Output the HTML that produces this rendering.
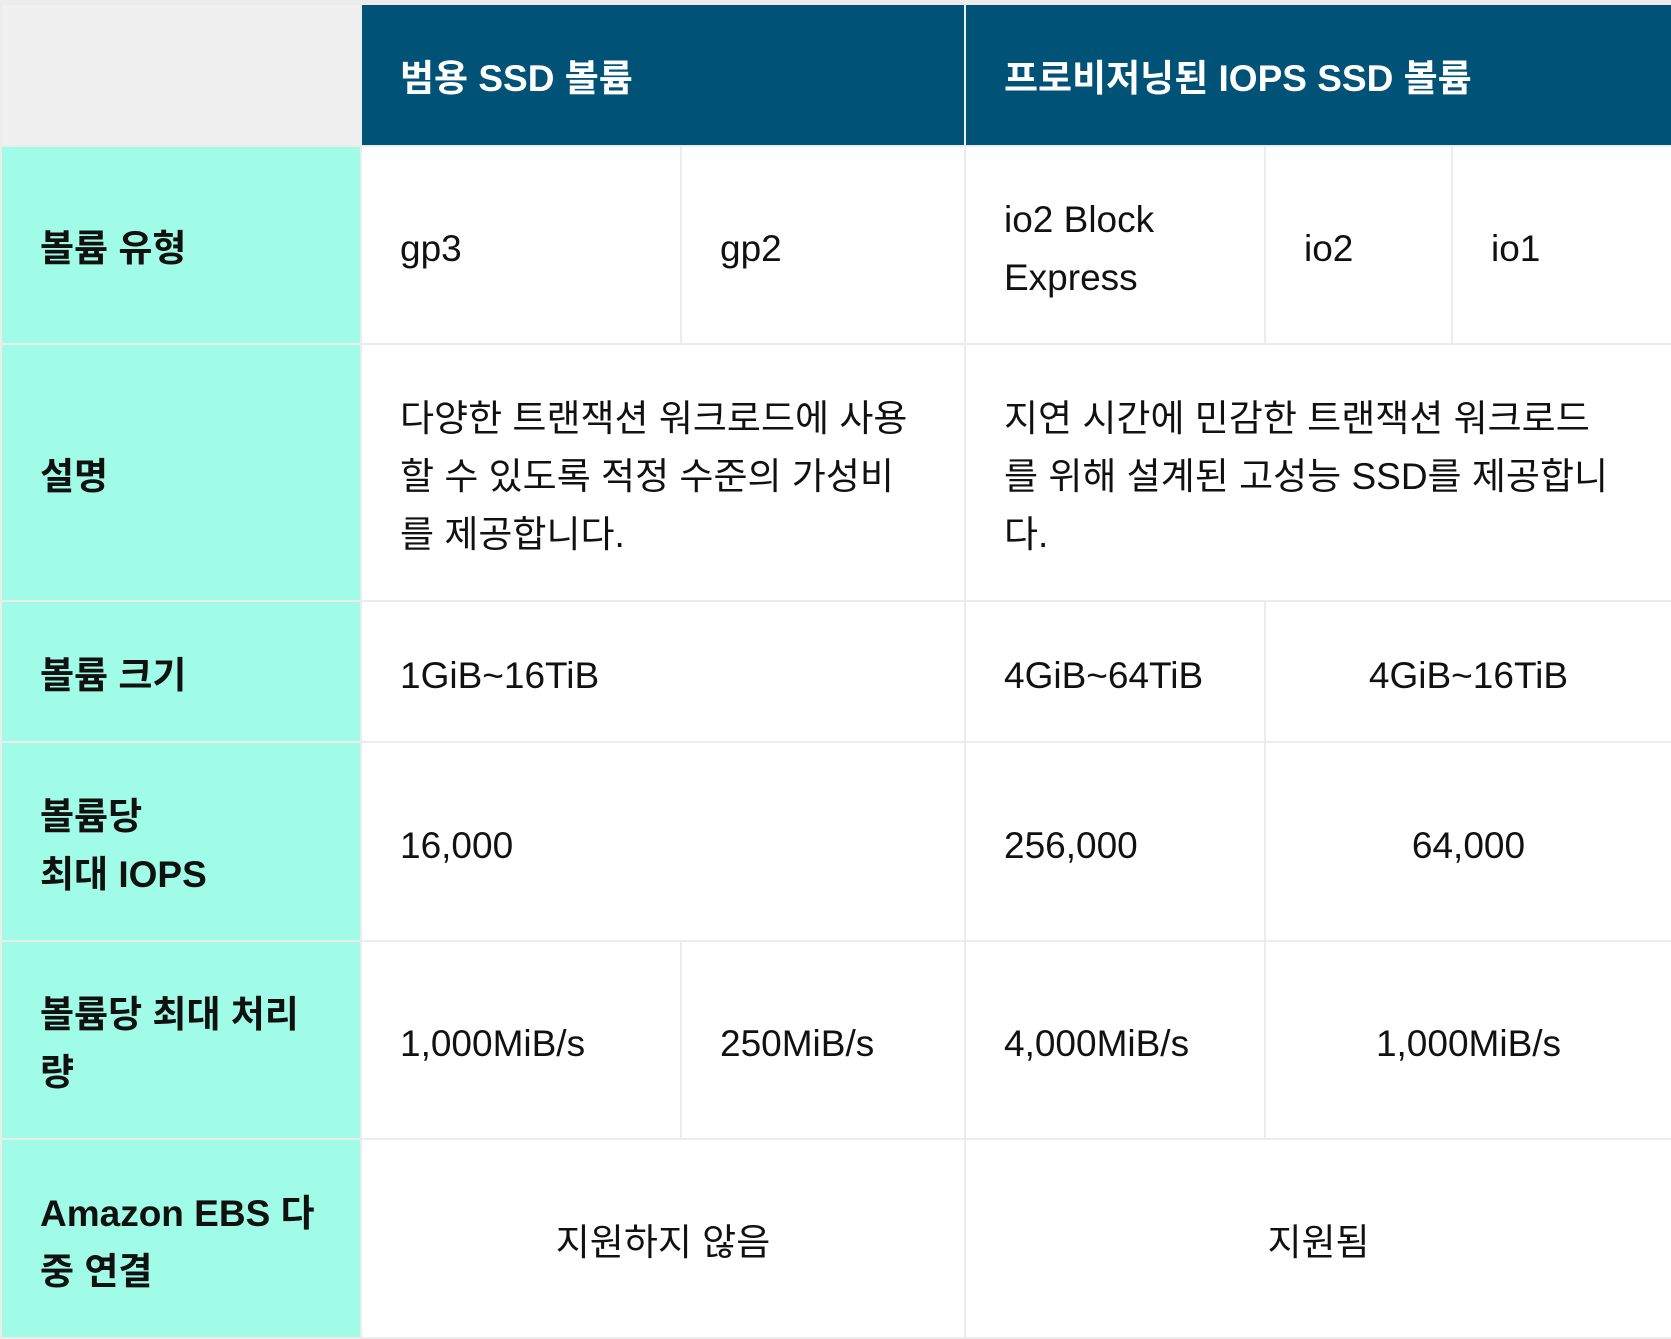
<!DOCTYPE html>
<html><head><meta charset="utf-8"><style>
body{margin:0;width:1671px;height:1339px;background:#ececec;position:relative;overflow:hidden;font-family:"Liberation Sans","Noto Sans CJK KR",sans-serif;}
.c{position:absolute;box-sizing:border-box;display:flex;align-items:center;padding-left:38px;padding-top:8px;font-size:37px;line-height:58px;color:#111;background:#fff;}
.h{background:#005276;color:#fff;font-weight:bold;}
.l{background:#a0fce6;font-weight:bold;color:#111;}
.ctr{justify-content:center;padding-left:0;}
</style></head><body>
<div class="c" style="left:2px;top:5px;width:358px;height:140px;background:#f0f0f0"></div>
<div class="c h" style="left:362px;top:5px;width:602px;height:140px">범용 SSD 볼륨</div>
<div class="c h" style="left:966px;top:5px;width:705px;height:140px">프로비저닝된 IOPS SSD 볼륨</div>

<div class="c l" style="left:2px;top:147px;width:358px;height:196px">볼륨 유형</div>
<div class="c" style="left:362px;top:147px;width:318px;height:196px">gp3</div>
<div class="c" style="left:682px;top:147px;width:282px;height:196px">gp2</div>
<div class="c" style="left:966px;top:147px;width:298px;height:196px">io2 Block<br>Express</div>
<div class="c" style="left:1266px;top:147px;width:185px;height:196px">io2</div>
<div class="c" style="left:1453px;top:147px;width:218px;height:196px">io1</div>

<div class="c l" style="left:2px;top:345px;width:358px;height:255px">설명</div>
<div class="c" style="left:362px;top:345px;width:602px;height:255px">다양한 트랜잭션 워크로드에 사용<br>할 수 있도록 적정 수준의 가성비<br>를 제공합니다.</div>
<div class="c" style="left:966px;top:345px;width:705px;height:255px">지연 시간에 민감한 트랜잭션 워크로드<br>를 위해 설계된 고성능 SSD를 제공합니<br>다.</div>

<div class="c l" style="left:2px;top:602px;width:358px;height:139px">볼륨 크기</div>
<div class="c" style="left:362px;top:602px;width:602px;height:139px">1GiB~16TiB</div>
<div class="c" style="left:966px;top:602px;width:298px;height:139px">4GiB~64TiB</div>
<div class="c ctr" style="left:1266px;top:602px;width:405px;height:139px">4GiB~16TiB</div>

<div class="c l" style="left:2px;top:743px;width:358px;height:197px">볼륨당<br>최대 IOPS</div>
<div class="c" style="left:362px;top:743px;width:602px;height:197px">16,000</div>
<div class="c" style="left:966px;top:743px;width:298px;height:197px">256,000</div>
<div class="c ctr" style="left:1266px;top:743px;width:405px;height:197px">64,000</div>

<div class="c l" style="left:2px;top:942px;width:358px;height:196px">볼륨당 최대 처리<br>량</div>
<div class="c" style="left:362px;top:942px;width:318px;height:196px">1,000MiB/s</div>
<div class="c" style="left:682px;top:942px;width:282px;height:196px">250MiB/s</div>
<div class="c" style="left:966px;top:942px;width:298px;height:196px">4,000MiB/s</div>
<div class="c ctr" style="left:1266px;top:942px;width:405px;height:196px">1,000MiB/s</div>

<div class="c l" style="left:2px;top:1140px;width:358px;height:197px">Amazon EBS 다<br>중 연결</div>
<div class="c ctr" style="left:362px;top:1140px;width:602px;height:197px">지원하지 않음</div>
<div class="c ctr" style="left:966px;top:1140px;width:705px;height:197px">지원됨</div>
</body></html>
